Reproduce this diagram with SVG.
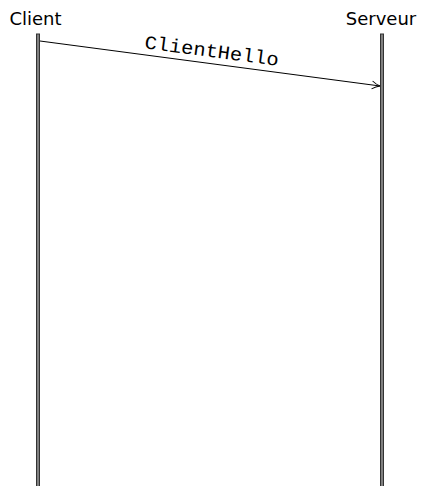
<svg xmlns="http://www.w3.org/2000/svg" width="423" height="486" viewBox="0 0 423 486">
<style>
.life{fill:#808080;stroke:#333;stroke-width:1}
.lbl{font-family:"DejaVu Sans","Liberation Sans",sans-serif;font-size:18px;fill:#000}
.msg{font-family:"Liberation Mono","DejaVu Sans Mono",monospace;font-size:19px;fill:#000}
</style>
<defs>
<marker id="arr" markerWidth="10" markerHeight="10" refX="9" refY="5" orient="auto" markerUnits="userSpaceOnUse">
<path d="M1,1 Q5,4 9,5 Q5,6 1,9" fill="none" stroke="#000" stroke-width="1"/>
</marker>
</defs>
<rect width="423" height="486" fill="#fff"/>
<g id="client">
<text class="lbl" x="35.5" y="25" text-anchor="middle">Client</text>
<rect class="life" x="36.5" y="34" width="3" height="460"/>
</g>
<g id="serveur">
<text class="lbl" x="381" y="25" text-anchor="middle">Serveur</text>
<rect class="life" x="380.5" y="34" width="3" height="460"/>
</g>
<g id="connectors">
<line x1="40" y1="41" x2="380" y2="86" stroke="#000" stroke-width="1" marker-end="url(#arr)"/>
<text class="msg" transform="rotate(7.5 211 57)" x="211" y="57" text-anchor="middle" textLength="135" lengthAdjust="spacingAndGlyphs">ClientHello</text>
</g>
</svg>
